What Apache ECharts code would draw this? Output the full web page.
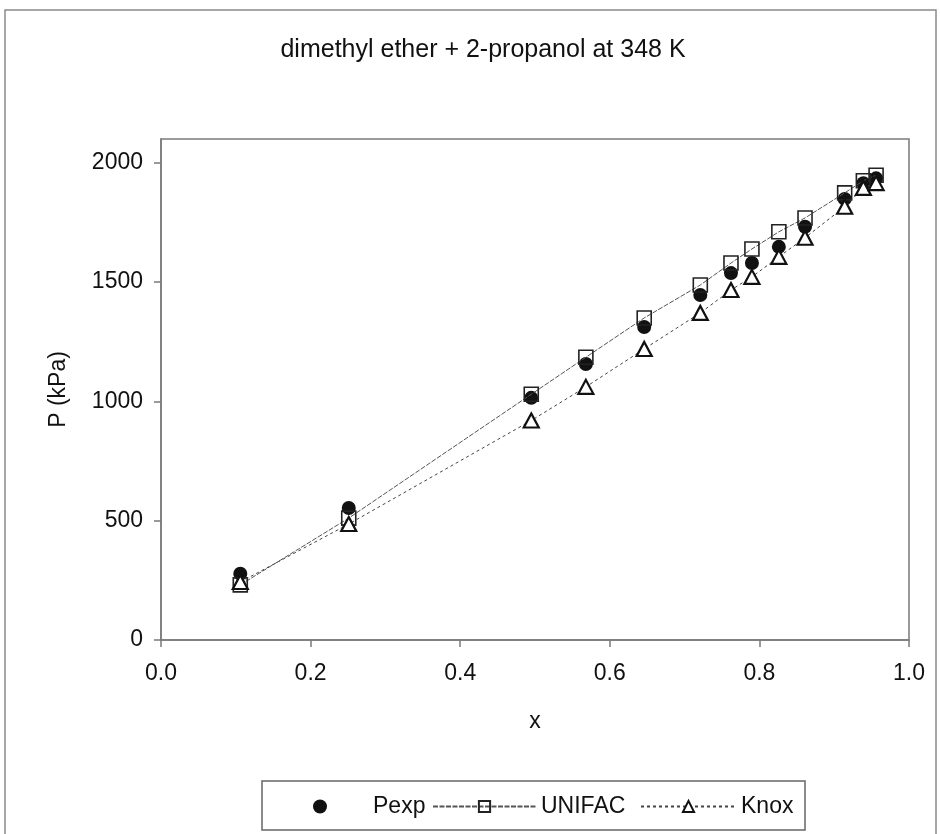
<!DOCTYPE html>
<html>
<head>
<meta charset="utf-8">
<script src="https://cdn.jsdelivr.net/npm/echarts@6/dist/echarts.min.js"></script>
<style>
html,body{margin:0;padding:0;background:#fff;}
#chart{width:940px;height:834px;}
</style>
</head>
<body>
<div id="chart"></div>
<script>
// ---- data ----
const titleText = 'dimethyl ether + 2-propanol at 348 K';
const xValues = [0.106, 0.251, 0.495, 0.568, 0.646, 0.721, 0.762, 0.790, 0.826, 0.861, 0.914, 0.939, 0.956];
const pexp    = [278, 553, 1015, 1157, 1312, 1446, 1538, 1580, 1648, 1732, 1849, 1915, 1935];
const unifac  = [231, 511, 1030, 1185, 1350, 1488, 1580, 1639, 1711, 1769, 1874, 1925, 1948];
const knox    = [243, 486, 920, 1061, 1220, 1371, 1467, 1522, 1606, 1686, 1816, 1895, 1915];
const xTicks = [0, 0.2, 0.4, 0.6, 0.8, 1.0];
const yTicks = [0, 500, 1000, 1500, 2000];
const seriesNames = ['Pexp', 'UNIFAC', 'Knox'];
const xAxisTitle = 'x';
const yAxisTitle = 'P (kPa)';

const pair = (ys) => xValues.map((x, i) => [x, ys[i]]);

const FONT = '"Liberation Sans", Arial, sans-serif';
const axisGray = '#7a7a7a';
const legendText = {fontFamily: FONT, fontSize: 23, color: '#111'};

const chart = echarts.init(document.getElementById('chart'), null, {renderer: 'canvas'});
chart.setOption({
  backgroundColor: '#fff',
  animation: false,
  title: {
    text: titleText,
    left: 478, top: 33, textAlign: 'center',
    textStyle: {fontFamily: FONT, fontSize: 25, fontWeight: 'normal', color: '#111'}
  },
  grid: {left: 161, right: 31, top: 139, bottom: 194, show: true, borderColor: axisGray, borderWidth: 1.5, backgroundColor: 'transparent'},
  xAxis: {
    type: 'value', min: 0, max: 1, interval: 0.2,
    name: xAxisTitle, nameLocation: 'middle', nameGap: 70,
    nameTextStyle: {fontFamily: FONT, fontSize: 23, color: '#111'},
    axisLine: {show: true, lineStyle: {color: axisGray, width: 1.5}},
    axisTick: {show: true, inside: false, length: 7, customValues: xTicks, lineStyle: {color: axisGray, width: 1.5}},
    axisLabel: {customValues: xTicks, margin: 22, fontFamily: FONT, fontSize: 23, color: '#111', formatter: v => Number(v).toFixed(1)},
    splitLine: {show: false}
  },
  yAxis: {
    type: 'value', min: 0, max: 2100, interval: 500,
    name: yAxisTitle, nameLocation: 'middle', nameGap: 91, nameRotate: 90,
    nameTextStyle: {fontFamily: FONT, fontSize: 23, color: '#111'},
    axisLine: {show: true, lineStyle: {color: axisGray, width: 1.5}},
    axisTick: {show: true, inside: false, length: 7, customValues: yTicks, lineStyle: {color: axisGray, width: 1.5}},
    axisLabel: {customValues: yTicks, margin: 18, fontFamily: FONT, fontSize: 23, color: '#111', formatter: v => String(v)},
    splitLine: {show: false}
  },
  legend: [
    {data: [seriesNames[0]], left: 308, top: 790, itemWidth: 14, itemHeight: 14, icon: 'circle',
     textStyle: Object.assign({padding: [0, 0, 0, 41]}, legendText)},
    {data: [seriesNames[1]], left: 427, top: 790, itemWidth: 103, itemHeight: 14,
     textStyle: Object.assign({padding: [0, 0, 0, 0]}, legendText)},
    {data: [seriesNames[2]], left: 635, top: 790, itemWidth: 95, itemHeight: 14,
     textStyle: Object.assign({padding: [0, 0, 0, 0]}, legendText)}
  ],
  graphic: [
    {type: 'rect', shape: {x: 5, y: 10, width: 931, height: 840}, style: {fill: 'none', stroke: '#8a8a8a', lineWidth: 1.5}, z: -10, silent: true},
    {type: 'rect', shape: {x: 262, y: 781, width: 543, height: 49}, style: {fill: 'none', stroke: '#666', lineWidth: 1.5}, z: -5, silent: true}
  ],
  series: [
    {
      name: seriesNames[0], type: 'scatter', data: pair(pexp),
      symbol: 'circle', symbolSize: 14,
      itemStyle: {color: '#111', opacity: 1}, z: 2
    },
    {
      name: seriesNames[1], type: 'line', data: pair(unifac),
      symbol: 'rect', symbolSize: 14, showSymbol: true,
      itemStyle: {color: 'rgba(255,255,255,0)', borderColor: '#222', borderWidth: 1.6},
      lineStyle: {color: '#555', width: 1, type: [5, 1.5]}, z: 3
    },
    {
      name: seriesNames[2], type: 'line', data: pair(knox),
      symbol: 'triangle', symbolSize: [15, 14], showSymbol: true,
      itemStyle: {color: '#fff', borderColor: '#111', borderWidth: 2.2},
      lineStyle: {color: '#444', width: 1, type: [3, 3]}, z: 4
    }
  ]
});
</script>
</body>
</html>
